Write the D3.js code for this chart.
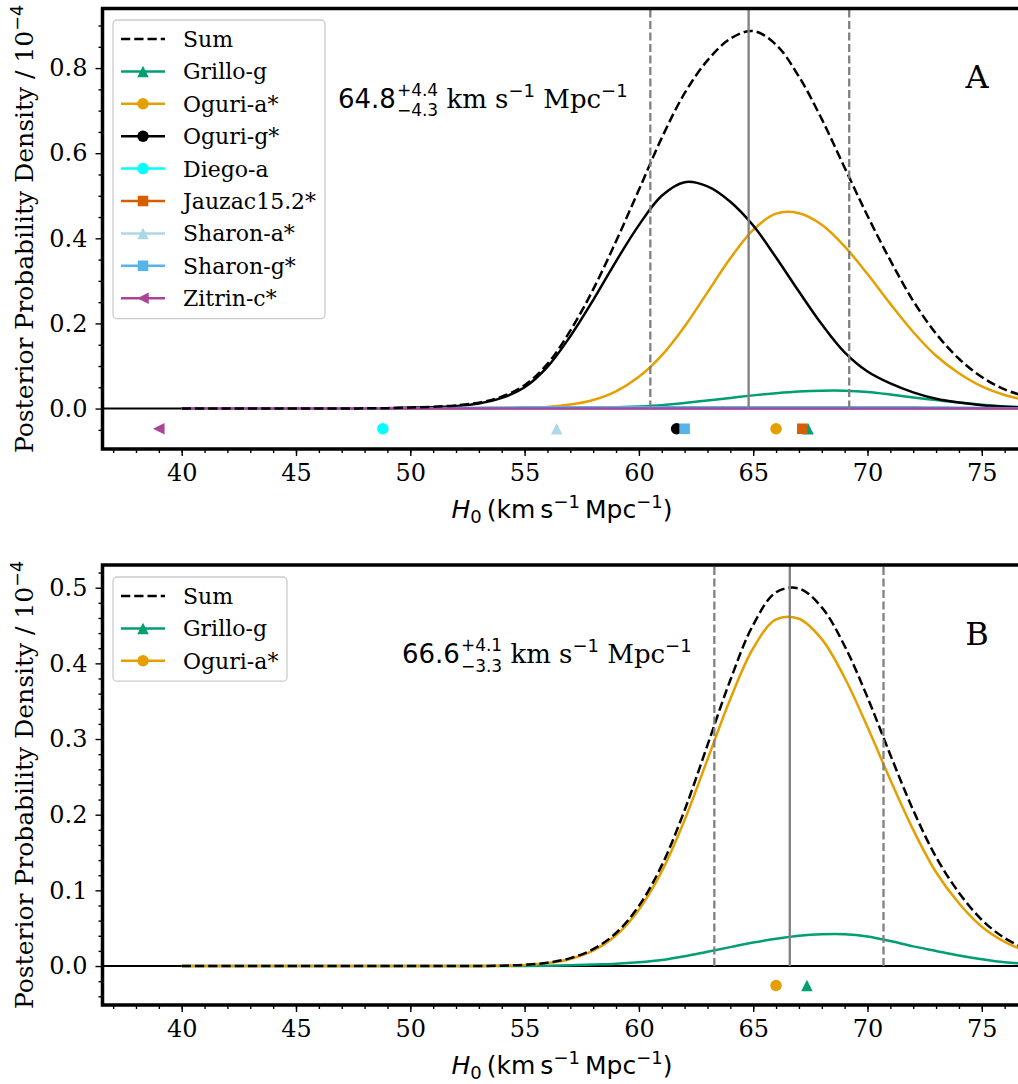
<!DOCTYPE html>
<html>
<head>
<meta charset="utf-8">
<script src="https://cdn.jsdelivr.net/npm/d3@7"></script>
<style>
body{margin:0;background:#fff}
text{white-space:pre}
</style>
</head>
<body>
<script>
// ---- data ----
const h0Grid = [40,41,42,43,44,45,46,47,48,49,50,51,52,53,54,55,56,57,58,59,60,61,62,63,64,65,66,67,68,69,70,71,72,73,74,75,76,77];

const grilloG = [0,0,0,0,0,0,0,0,0,0,0,0,0,0,0,
  0.0002,0.0005,0.001,0.002,0.003,0.005,0.008,0.013,0.019,0.025,0.031,0.036,0.040,0.042,0.042,0.039,0.033,0.026,0.020,0.014,0.009,0.005,0.003];
const oguriA = [0,0,0,0,0,0,0,0,0,0,0,0,0,0,
  0.0005,0.0015,0.0039,0.0094,0.0203,0.0406,0.0745,0.125,0.193,0.273,0.353,0.420,0.458,0.459,0.432,0.381,0.316,0.246,0.180,0.124,0.083,0.052,0.032,0.019];
const oguriG = [0,0,0,0,0,0,0,0,
  0.0005,0.001,0.002,0.003,0.006,0.012,0.025,0.050,0.098,0.170,0.255,0.346,0.431,0.500,0.532,0.522,0.486,0.430,0.355,0.275,0.198,0.132,0.087,0.059,0.038,0.023,0.014,0.008,0.0045,0.0025];
const diegoA = [0,0,0,0,0,0,0,0,0,0,0,0,0,0,0,0,0,0,0,0,0,0,0,0,0,0,0,0,0,0,0,0,0,0,0,0,0,0];
const jauzac = [0,0,0,0,0,0,0,0,0,0,0,0,0,0,0,0,0,0,0,0,0,0,0,0,0,0,0,0,0,0,0,0,0,0,0,0,0,0];
const sharonA = [0,0,0,0,0,0,0,0,0,0,0,0,0,0,0,0,0,0,0,0,0,0,0,0,0,0,0,0,0,0,0,0,0,0,0,0,0,0];
const sharonG = [0,0,0,0,0,0,0,0,0,0,
  0.0005,0.001,0.0015,0.002,0.0025,0.003,0.003,0.003,0.003,0.003,0.003,0.003,0.003,0.003,0.003,0.003,0.003,0.003,0.003,0.003,0.003,0.003,0.003,0.0025,0.002,0.0015,0.001,0.001];
const zitrinC = [0,0,0,0,0,0,0,0,0,0,0,0,0,0,0,0,0,0,0,0,0,0,0,0,0,0,0,0,0,0,0,0,0,0,0,0,0,0];
const sumA = [0,0,0,0,0,0,0,0,
  0.0005,0.001,0.0025,0.004,0.0075,0.014,0.028,0.055,0.105,0.183,0.280,0.393,0.514,0.636,0.741,0.818,0.869,0.887,0.855,0.780,0.680,0.566,0.453,0.348,0.253,0.176,0.117,0.074,0.045,0.027];
const sumB = [0,0,0,0,0,0,0,0,0,0,0,0,0,0,
  0.0005,0.0017,0.0044,0.0104,0.0223,0.0436,0.0795,0.133,0.206,0.292,0.378,0.451,0.494,0.499,0.474,0.423,0.355,0.279,0.206,0.144,0.097,0.061,0.037,0.022];

const namesA = ["Grillo-g","Oguri-a*","Oguri-g*","Diego-a","Jauzac15.2*","Sharon-a*","Sharon-g*","Zitrin-c*"];
const curvesA = [grilloG, oguriA, oguriG, diegoA, jauzac, sharonA, sharonG, zitrinC];
const markerH0A = [67.4, 66.0, 61.65, 48.8, 67.15, 56.4, 62.0, 39.0];
const namesB = ["Grillo-g","Oguri-a*"];
const curvesB = [grilloG, oguriA];
const markerH0B = [67.35, 66.0];

const medianA = 64.8, errA = [4.3, 4.4];
const medianB = 66.6, errB = [3.3, 4.1];

const xMajor = [40,45,50,55,60,65,70,75];

// ---- styles ----
const styles = {
  "Grillo-g":    {color:"#009E73", shape:"up"},
  "Oguri-a*":    {color:"#E69F00", shape:"circle"},
  "Oguri-g*":    {color:"#000000", shape:"circle"},
  "Diego-a":     {color:"#00FFFF", shape:"circle"},
  "Jauzac15.2*": {color:"#D55E00", shape:"square"},
  "Sharon-a*":   {color:"#ADD8E6", shape:"up"},
  "Sharon-g*":   {color:"#56B4E9", shape:"square"},
  "Zitrin-c*":   {color:"#AA4499", shape:"left"}
};
const ms = 11.5;
const triUp = {draw(c,s){const h=Math.sqrt(s)/2;c.moveTo(0,-h);c.lineTo(-h,h);c.lineTo(h,h);c.closePath();}};
const triLeft = {draw(c,s){const h=Math.sqrt(s)/2;c.moveTo(-h,0);c.lineTo(h,-h);c.lineTo(h,h);c.closePath();}};
const sq = {draw(c,s){const h=Math.sqrt(s)/2*0.92;c.rect(-h,-h,2*h,2*h);}};
function marker(shape){
  if(shape=="circle") return d3.symbol(d3.symbolCircle, Math.PI*ms*ms/4)();
  if(shape=="up") return d3.symbol(triUp, ms*ms)();
  if(shape=="left") return d3.symbol(triLeft, ms*ms)();
  return d3.symbol(sq, ms*ms)();
}

const W=1018,H=1084;
const L=102.5,R=1021;
const SERIF="DejaVu Serif", SANS="DejaVu Sans";

const svg=d3.select("body").append("svg").attr("width",W).attr("height",H);

// text made of pieces placed one after another
function richText(g,pieces){
  let x=0;
  pieces.forEach(p=>{
    if(p.stack){
      let w=0;
      p.stack.forEach(s=>{
        const t=g.append("text").attr("x",x+1).attr("y",s.dy)
          .style("font-family",s.family).style("font-size",s.size+"px").text(s.text);
        w=Math.max(w,t.node().getComputedTextLength());
      });
      x+=w+1;
    }else{
      const t=g.append("text").attr("x",x).attr("y",p.dy||0)
        .style("font-family",p.family).style("font-size",p.size+"px")
        .style("font-style",p.italic?"italic":"normal").text(p.text);
      x+=t.node().getComputedTextLength();
    }
  });
  return x;
}

function drawPanel(p){
  const x=d3.scaleLinear().domain([40,75]).range([181.7,981.8]);
  const y=d3.scaleLinear().domain(p.yLim).range([p.bottom,p.top]);
  const g=svg.append("g");
  const clipId="clip"+p.letter;
  svg.append("clipPath").attr("id",clipId).append("rect")
    .attr("x",L).attr("y",p.top).attr("width",R-L).attr("height",p.bottom-p.top);
  const plot=g.append("g").attr("clip-path",`url(#${clipId})`);

  // zero line
  plot.append("line").attr("x1",L).attr("x2",R).attr("y1",y(0)).attr("y2",y(0))
    .attr("stroke","#000").attr("stroke-width",2);

  const line=d3.line().x((d,i)=>x(h0Grid[i])).y(d=>y(d)).curve(d3.curveCatmullRom);
  p.names.forEach((n,k)=>{
    plot.append("path").attr("d",line(p.curves[k])).attr("fill","none")
      .attr("stroke",styles[n].color).attr("stroke-width",2.5);
  });
  // markers
  const my=p.yLim[0]/2;
  p.names.forEach((n,k)=>{
    plot.append("path").attr("d",marker(styles[n].shape))
      .attr("transform",`translate(${x(p.markers[k])},${y(my)})`)
      .attr("fill",styles[n].color);
  });
  // sum
  plot.append("path").attr("d",line(p.sum)).attr("fill","none")
    .attr("stroke","#000").attr("stroke-width",2.5).attr("stroke-dasharray","9.25,4");
  // median and interval
  const vl=[{v:p.median,dash:null},{v:p.median-p.err[0],dash:"8,3.5"},{v:p.median+p.err[1],dash:"8,3.5"}];
  vl.forEach(d=>{
    plot.append("line").attr("x1",x(d.v)).attr("x2",x(d.v)).attr("y1",y(0)).attr("y2",p.top)
      .attr("stroke","#808080").attr("stroke-width",2.3).attr("stroke-dasharray",d.dash);
  });

  // axes
  const xAx=d3.axisBottom(x).tickValues(xMajor).tickSize(7).tickPadding(8).tickFormat(d3.format("d"));
  const xMin=d3.axisBottom(x).tickValues(d3.range(37,77)).tickSize(4).tickFormat("");
  const yAx=d3.axisLeft(y).tickValues(p.yMajor).tickSize(7).tickPadding(8).tickFormat(d3.format(".1f"));
  const yMin=d3.axisLeft(y).tickValues(p.yMinor).tickSize(4).tickFormat("");
  [[xAx,`translate(0,${p.bottom})`],[xMin,`translate(0,${p.bottom})`],[yAx,`translate(${L},0)`],[yMin,`translate(${L},0)`]]
  .forEach(([ax,tr])=>{
    const a=g.append("g").attr("transform",tr).call(ax);
    a.attr("font-family",SERIF);
    a.select(".domain").remove();
    a.selectAll("line").attr("stroke-width",1.4);
    a.selectAll("text").style("font-family",SERIF).style("font-size","24px").attr("fill","#000");
  });
  // spines
  g.append("path").attr("d",`M${R},${p.top}H${L}V${p.bottom}H${R}`)
    .attr("fill","none").attr("stroke","#000").attr("stroke-width",3.5);

  // x label
  const xl=g.append("g");
  const wx=richText(xl,[
    {text:"H",family:SANS,size:25,italic:true},
    {text:"0",family:SANS,size:18,dy:5},
    {text:"\u2009(km\u2009s",family:SANS,size:25},
    {text:"\u22121",family:SANS,size:18,dy:-10},
    {text:"\u2009Mpc",family:SANS,size:25},
    {text:"\u22121",family:SANS,size:18,dy:-10},
    {text:")",family:SANS,size:25}
  ]);
  xl.attr("transform",`translate(${562-wx/2},${p.bottom+69})`);

  // y label
  const yl=g.append("g").attr("transform",`translate(33,${p.ylabelCy}) rotate(-90)`);
  const yli=yl.append("g");
  const wy=richText(yli,[
    {text:"Posterior Probability Density / 10",family:SERIF,size:25},
    {text:"\u22124",family:SANS,size:17.5,dy:-10}
  ]);
  yli.attr("transform",`translate(${-wy/2},0)`);

  // annotation
  const an=g.append("g").attr("transform",`translate(${p.annX},${p.annY})`);
  richText(an,[
    {text:p.median.toFixed(1),family:SANS,size:26},
    {stack:[{text:"+"+p.err[1].toFixed(1),family:SANS,size:17,dy:-12},
            {text:"\u2212"+p.err[0].toFixed(1),family:SANS,size:17,dy:8.5}]},
    {text:" km s",family:SERIF,size:26},
    {text:"\u22121",family:SANS,size:18,dy:-11},
    {text:" Mpc",family:SERIF,size:26},
    {text:"\u22121",family:SANS,size:18,dy:-11}
  ]);

  // panel letter
  g.append("text").attr("x",977).attr("y",p.letterY).attr("text-anchor","middle")
    .style("font-family",SERIF).style("font-size","32px").text(p.letter);

  // legend
  const rows=["Sum"].concat(p.names);
  const step=32.4;
  const lg=g.append("g");
  lg.append("rect").attr("x",113).attr("y",p.legTop).attr("width",p.legW)
    .attr("height",rows.length*step+7).attr("rx",4)
    .attr("fill","#fff").attr("fill-opacity",0.8).attr("stroke","#cccccc").attr("stroke-width",1.3);
  rows.forEach((n,i)=>{
    const cy=p.legTop+19+i*step;
    if(n=="Sum"){
      lg.append("line").attr("x1",121).attr("x2",165).attr("y1",cy).attr("y2",cy)
        .attr("stroke","#000").attr("stroke-width",2.5).attr("stroke-dasharray","9.25,4");
    }else{
      lg.append("line").attr("x1",121).attr("x2",165).attr("y1",cy).attr("y2",cy)
        .attr("stroke",styles[n].color).attr("stroke-width",2.5);
      lg.append("path").attr("d",marker(styles[n].shape))
        .attr("transform",`translate(143,${cy})`).attr("fill",styles[n].color);
    }
    lg.append("text").attr("x",183).attr("y",cy+8)
      .style("font-family",SERIF).style("font-size","22px").text(n);
  });
}

drawPanel({
  letter:"A", top:8.5, bottom:449, yLim:[-0.095,0.94],
  yMajor:[0,0.2,0.4,0.6,0.8],
  yMinor:d3.range(-1,19).map(k=>+(k*0.05).toFixed(2)).filter(v=>Math.round(v*100)%20!=0),
  names:namesA, curves:curvesA, markers:markerH0A, sum:sumA,
  median:medianA, err:errA, annX:338, annY:107.7, letterY:88,
  legTop:20, legW:212, ylabelCy:229
});
drawPanel({
  letter:"B", top:565, bottom:1005, yLim:[-0.0515,0.53],
  yMajor:[0,0.1,0.2,0.3,0.4,0.5],
  yMinor:d3.range(-2,27).map(k=>+(k*0.02).toFixed(2)).filter(v=>Math.round(v*100)%10!=0),
  names:namesB, curves:curvesB, markers:markerH0B, sum:sumB,
  median:medianB, err:errB, annX:402, annY:663, letterY:645,
  legTop:577, legW:174, ylabelCy:785
});
</script>
</body>
</html>
